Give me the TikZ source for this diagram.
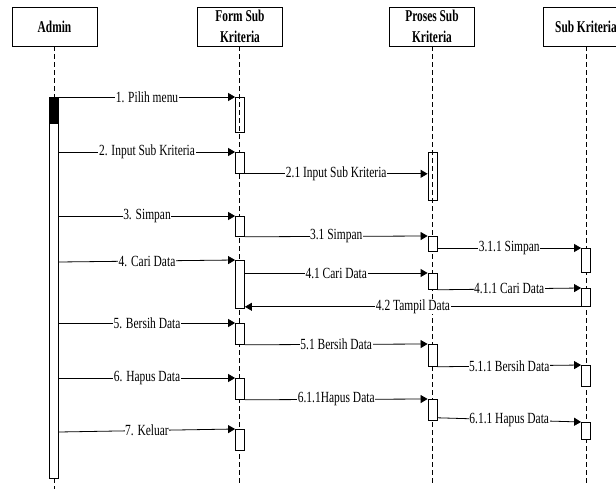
\documentclass[tikz,border=0pt]{standalone}
\usepackage{fontspec}
\usetikzlibrary{arrows.meta,calc}
\newfontfamily\lblfont[FakeStretch=0.74]{Liberation Serif}
\newfontfamily\hdrfont[FakeStretch=0.69]{Liberation Serif}
\begin{document}
\begin{tikzpicture}[x=1pt,y=-1pt,
  actor/.style={draw,line width=0.8pt,minimum width=85,minimum height=39,inner sep=0,
    align=center,font=\hdrfont\bfseries\fontsize{16.5}{20.5}\selectfont},
  life/.style={line width=0.7pt,dash pattern=on 5pt off 3pt},
  act/.style={draw,line width=0.8pt,fill=white,minimum width=9,inner sep=0,anchor=north},
  hollow/.style={draw,line width=0.8pt,minimum width=9,inner sep=0,anchor=north},
  msg/.style={line width=0.8pt,-{Triangle[length=7pt,width=8pt]}},
  lbl/.style={fill=white,inner xsep=0.6pt,inner ysep=0pt,font=\lblfont\fontsize{15.5}{18}\selectfont}]
\useasboundingbox (0,0) rectangle (616,489);

% lifeline heads
\node[actor] (admin)  at (54.5,26.5) {Admin};
\node[actor] (form)   at (240,26.5) {Form Sub\\Kriteria};
\node[actor] (proses) at (432,26.5) {Proses Sub\\Kriteria};
\node[actor] (sub)    at (586,26.5) {Sub Kriteria};

% lifeline ends
\coordinate (adminEnd)  at (54,489);
\coordinate (formEnd)   at (239.5,483);
\coordinate (prosesEnd) at (432.5,483);
\coordinate (subEnd)    at (586,483);

\draw[life] (admin.south -| adminEnd) -- (adminEnd);
\draw[life] (form.south -| formEnd) -- (formEnd);
\draw[life] (proses.south -| prosesEnd) -- (prosesEnd);
\draw[life] (sub.south -| subEnd) -- (subEnd);

% Admin activation
\node[act,minimum height=381] (ad) at (54,97) {};
\node[act,fill=black,minimum height=26] (adtop) at (54,97) {};

% Form Sub Kriteria activations
\node[hollow,minimum height=35] (f1) at (240,97) {};
\node[act,minimum height=21] (f2) at (240,152) {};
\node[act,minimum height=20] (f3) at (240,216) {};
\node[act,minimum height=48] (f4) at (240,260) {};
\node[act,minimum height=21] (f5) at (240,323) {};
\node[act,minimum height=21] (f6) at (240,378) {};
\node[act,minimum height=21] (f7) at (240,429) {};

% Proses Sub Kriteria activations
\node[hollow,minimum height=48] (p2) at (432.5,152) {};
\node[act,minimum height=15] (p3) at (432.5,236) {};
\node[act,minimum height=16] (p4) at (432.5,273) {};
\node[act,minimum height=22] (p5) at (432.5,344) {};
\node[act,minimum height=21] (p6) at (432.5,399) {};

% Sub Kriteria activations
\node[act,minimum height=24] (s3) at (586,248) {};
\node[act,minimum height=18] (s4) at (586,288) {};
\node[act,minimum height=21] (s5) at (586,365) {};
\node[act,minimum height=17] (s6) at (586,422) {};

% messages from Admin
\draw[msg] (ad.east |- f1.north) -- (f1.north west) node[lbl,midway] {1. Pilih menu};
\draw[msg] (ad.east |- f2.north) -- (f2.north west) node[lbl,midway] {2. Input Sub Kriteria};
\draw[msg] (ad.east |- f3.north) -- (f3.north west) node[lbl,midway] {3. Simpan};
\draw[msg] ($(ad.east |- f4.north)+(0,2)$) -- (f4.north west) node[lbl,midway] {4. Cari Data};
\draw[msg] (ad.east |- f5.north) -- (f5.north west) node[lbl,midway] {5. Bersih Data};
\draw[msg] (ad.east |- f6.north) -- (f6.north west) node[lbl,midway] {6. Hapus Data};
\draw[msg] ($(ad.east |- f7.north)+(0,3)$) -- (f7.north west) node[lbl,midway] {7. Keluar};

% messages from Form Sub Kriteria
\draw[msg] (f2.south east) -- (p2.west |- f2.south) node[lbl,midway] {2.1 Input Sub Kriteria};
\draw[msg] (f3.south east) -- (p3.north west) node[lbl,midway] {3.1 Simpan};
\draw[msg] (f4.east |- p4.north) -- (p4.north west) node[lbl,midway] {4.1 Cari Data};
\draw[msg] (f5.south east) -- (p5.north west) node[lbl,midway] {5.1 Bersih Data};
\draw[msg] (f6.south east) -- (p6.north west) node[lbl,midway] {6.1.1Hapus Data};

% messages from Proses Sub Kriteria
\draw[msg] (p3.east |- s3.north) -- (s3.north west) node[lbl,midway] {3.1.1 Simpan};
\draw[msg] (p4.south east) -- (s4.north west) node[lbl,midway] {4.1.1 Cari Data};
\draw[msg] (p5.south east) -- (s5.north west) node[lbl,midway] {5.1.1 Bersih Data};
\draw[msg] ($(p6.south east)+(0,-3)$) -- (s6.north west) node[lbl,midway] {6.1.1 Hapus Data};

% reply
\draw[msg] (s4.south west) -- (f4.east |- s4.south) node[lbl,midway] {4.2 Tampil Data};
\end{tikzpicture}
\end{document}
